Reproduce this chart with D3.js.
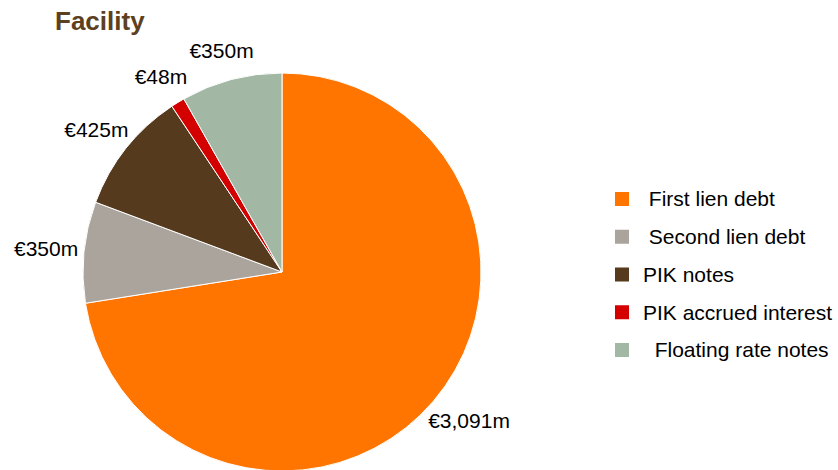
<!DOCTYPE html>
<html>
<head>
<meta charset="utf-8">
<script src="https://cdn.jsdelivr.net/npm/d3@7"></script>
<style>
  html, body { margin: 0; padding: 0; background: #fff; }
  svg { display: block; font-family: "Liberation Sans", Arial, sans-serif; }
  .legend text { white-space: pre; }
</style>
</head>
<body>
<svg id="chart" width="838" height="470"></svg>
<script>
// Debt facilities (€m)
const categories = ["First lien debt", "Second lien debt", "PIK notes", "PIK accrued interest", "Floating rate notes"];
const legendLabels = [" First lien debt", " Second lien debt", "PIK notes", "PIK accrued interest", "  Floating rate notes"];
const amounts = [3091, 350, 425, 48, 350];
const valueLabels = ["€3,091m", "€350m", "€425m", "€48m", "€350m"];
const colours = ["#FF7500", "#ABA49C", "#553A1E", "#D40000", "#A2B8A4"];
const title = "Facility";

const svg = d3.select("#chart");
const cx = 282, cy = 272, radius = 199;
const labelGap = 205;   // distance from centre to the inner side of each value label
const labelHalfH = 24;  // vertical clearance for label boxes

svg.append("text")
  .attr("x", 55).attr("y", 30)
  .attr("font-size", 26).attr("font-weight", "bold")
  .attr("fill", "#5C4020")
  .text(title);

const data = categories.map((c, i) => ({ name: c, value: amounts[i], label: valueLabels[i], colour: colours[i] }));

const pie = d3.pie().value(d => d.value).sort(null);
const arc = d3.arc().innerRadius(0).outerRadius(radius);

const g = svg.append("g").attr("transform", `translate(${cx},${cy})`);
const arcs = pie(data);

g.selectAll("path.slice")
  .data(arcs)
  .join("path")
  .attr("class", "slice")
  .attr("d", arc)
  .attr("fill", d => d.data.colour)
  .attr("stroke", "#fff")
  .attr("stroke-width", 1);

// Value labels sit outside the rim, pushed outward by half their own width
g.selectAll("text.value")
  .data(arcs)
  .join("text")
  .attr("class", "value")
  .attr("text-anchor", "middle")
  .attr("dy", "0.35em")
  .attr("font-size", 21)
  .attr("fill", "#000")
  .text(d => d.data.label)
  .attr("transform", function (d) {
    const a = (d.startAngle + d.endAngle) / 2;
    const w = this.getComputedTextLength();
    const x = Math.sin(a) * (labelGap + w / 2);
    const y = -Math.cos(a) * (labelGap + labelHalfH);
    return `translate(${x},${y})`;
  });

// Legend
const legendY = d3.scalePoint().domain(d3.range(categories.length)).range([199, 350]);
const legend = svg.append("g").attr("class", "legend");
const items = legend.selectAll("g")
  .data(data)
  .join("g")
  .attr("transform", (d, i) => `translate(615,${legendY(i)})`);

items.append("rect")
  .attr("x", 0).attr("y", -7)
  .attr("width", 14).attr("height", 14)
  .attr("fill", d => d.colour);

items.append("text")
  .attr("x", 28).attr("y", 0)
  .attr("dy", "0.35em")
  .attr("font-size", 21)
  .attr("fill", "#000")
  .text((d, i) => legendLabels[i]);
</script>
</body>
</html>
